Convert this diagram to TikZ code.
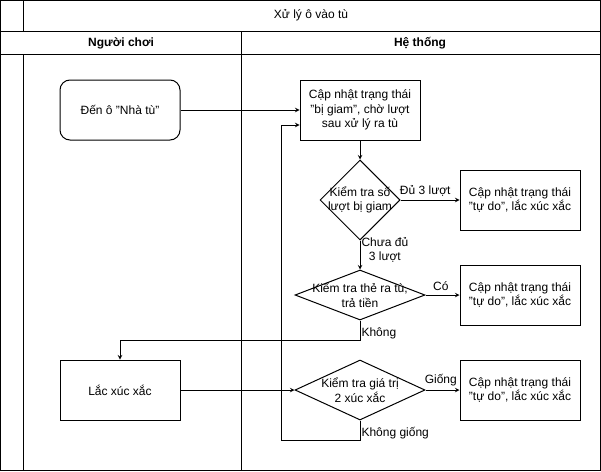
\documentclass[tikz,border=0pt]{standalone}
\usepackage{fontspec}
\setmainfont{Liberation Sans}
\usetikzlibrary{shapes.geometric, arrows}
\tikzstyle{startstop} = [rectangle, rounded corners=10pt, minimum width=120pt, minimum height=60pt, text centered, draw=black, fill=white]
\tikzstyle{process} = [rectangle, minimum width=120pt, minimum height=60pt, align=center, draw=black, fill=white]
\tikzstyle{decision} = [diamond, inner sep=0pt, draw=black, fill=white]
\tikzstyle{arrow} = [->,>=stealth]
\tikzstyle{lbl} = [inner sep=1pt, align=center]

\begin{document}
\begin{tikzpicture}[x=1pt, y=-1pt, node distance=90pt, line width=1pt,
    font=\fontsize{12}{14.5}\selectfont]

    \useasboundingbox (0,0) rectangle (601,471);

    % swimlane frame
    \draw (0.5,0.5) rectangle (600,470);
    \draw (23,0.5) -- (23,31);
    \draw (0.5,31) -- (600,31);
    \draw (0.5,54) -- (600,54);
    \draw (23,54) -- (23,470);
    \draw (241,31) -- (241,470);
    \node at (311,15) {Xử lý ô vào tù};
    \node at (121,43) {\textbf{Người chơi}};
    \node at (420,43) {\textbf{Hệ thống}};

    \node (start) [startstop] at (120,110) {Đến ô "Nhà tù"};
    \node (roll) [process, below of=start, yshift=-190pt] {Lắc xúc xắc};
    \node (upd) [process, right of=start, xshift=150pt] {Cập nhật trạng thái\\"bị giam", chờ lượt\\sau xử lý ra tù};
    \node (chk1) [decision, below of=upd, minimum width=80pt, minimum height=80pt,
        label={[lbl]center:Kiểm tra số\\lượt bị giam}] {};
    \node (free1) [process, right of=chk1, xshift=70pt] {Cập nhật trạng thái\\"tự do", lắc xúc xắc};
    \node (chk2) [decision, below of=chk1, yshift=-5pt, minimum width=130pt, minimum height=50pt,
        label={[lbl]center:Kiểm tra thẻ ra tù,\\trả tiền}] {};
    \node (free2) [process, right of=chk2, xshift=70pt] {Cập nhật trạng thái\\"tự do", lắc xúc xắc};
    \node (chk3) [decision, below of=chk2, yshift=-5pt, minimum width=130pt, minimum height=60pt,
        label={[lbl]center:Kiểm tra giá trị\\2 xúc xắc}] {};
    \node (free3) [process, right of=chk3, xshift=70pt] {Cập nhật trạng thái\\"tự do", lắc xúc xắc};

    \draw [arrow] (start) -- (upd);
    \draw [arrow] (upd) -- (chk1);
    \draw [arrow] (chk1) -- node[lbl, above, pos=0.42, yshift=2pt] {Đủ 3 lượt} (free1);
    \draw [arrow] (chk1) -- node[lbl, right, pos=0.33] {Chưa đủ\\3 lượt} (chk2);
    \draw [arrow] (chk2) -- node[lbl, above, pos=0.45, yshift=3pt] {Có} (free2);
    \draw [arrow] (chk2.south) -- ++(0,20) node[lbl, above right] {Không} -| (roll.north);
    \draw [arrow] (roll) -- (chk3);
    \draw [arrow] (chk3) -- node[lbl, above, pos=0.45, yshift=3pt] {Giống} (free3);
    \draw [arrow] (chk3.south) -- ++(0,20) node[lbl, above right] {Không giống} -| ([xshift=-18pt, yshift=-15pt]upd.west) -- ([yshift=-15pt]upd.west);
\end{tikzpicture}
\end{document}
